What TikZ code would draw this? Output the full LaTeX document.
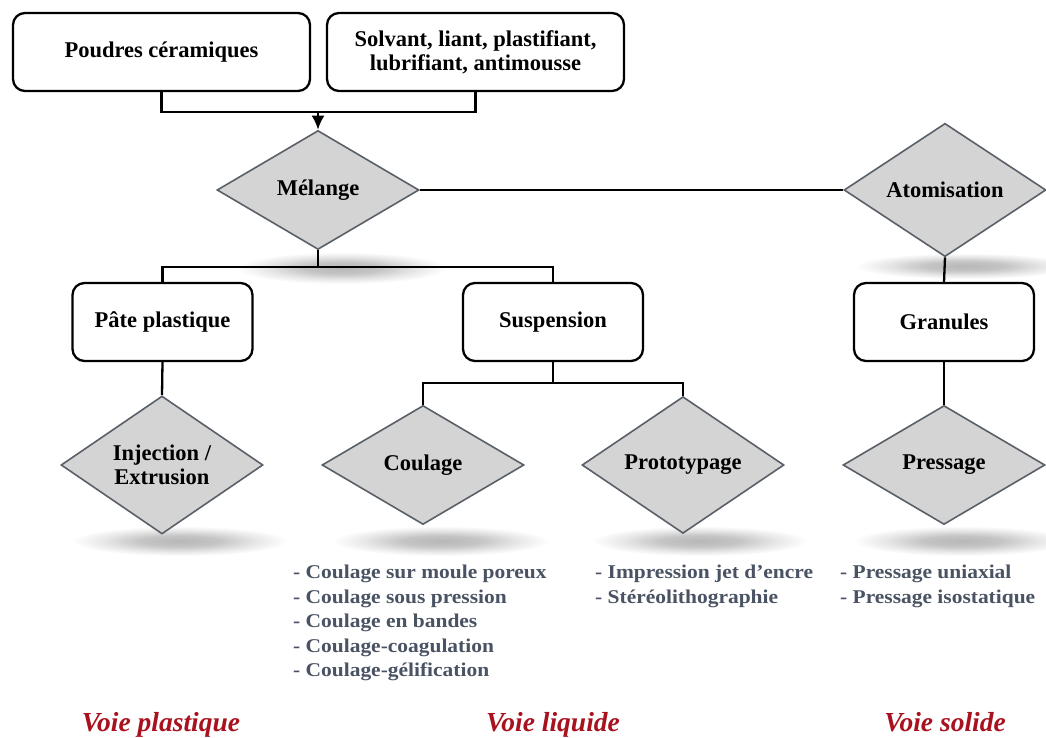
\documentclass[tikz,border=0pt]{standalone}
\usepackage{fontspec}
\setmainfont{Liberation Serif}
\newfontfamily\listfont[FakeStretch=1.1]{Liberation Serif}
\usetikzlibrary{shapes.geometric,arrows.meta}
\definecolor{dfill}{HTML}{D4D4D4}
\definecolor{dborder}{HTML}{596068}
\definecolor{listc}{HTML}{4A5363}
\definecolor{voie}{HTML}{A8121E}
\pgfdeclareradialshading{shadowblur}{\pgfpoint{0bp}{0bp}}{color(0bp)=(black!28); color(9bp)=(black!23); color(18bp)=(black!9); color(25bp)=(white); color(50bp)=(white)}
\begin{document}
\begin{tikzpicture}[x=1pt,y=-1pt,
  box/.style={draw=black, line width=2.3pt, rounded corners=12pt, fill=white, minimum width=180pt, minimum height=78pt, align=center, font=\bfseries\fontsize{22.5}{24}\selectfont},
  dia/.style={diamond, draw=dborder, line width=1.6pt, fill=dfill, minimum width=202pt, minimum height=119pt, inner sep=0pt, align=center, font=\bfseries\fontsize{22.5}{24}\selectfont},
  conn/.style={draw=black, line width=2.3pt},
  listtxt/.style={anchor=north west, align=left, text=listc, inner sep=0pt, font=\listfont\bfseries\fontsize{19.5}{24.5}\selectfont},
  voietxt/.style={anchor=base, text=voie, font=\bfseries\itshape\fontsize{27.5}{30}\selectfont, inner sep=0pt},
  blur/.style={shading=shadowblur}
]
\useasboundingbox (0,0) rectangle (1046,738);
\fill[white] (0,0) rectangle (1046,738);
% shadows
\shade[blur] (342,268) ellipse [x radius=105pt, y radius=16pt];
\shade[blur] (965,266) ellipse [x radius=110pt, y radius=13pt];
\shade[blur] (180,541) ellipse [x radius=108pt, y radius=15pt];
\shade[blur] (441,541) ellipse [x radius=108pt, y radius=15pt];
\shade[blur] (700,541) ellipse [x radius=108pt, y radius=15pt];
\shade[blur] (962,541) ellipse [x radius=108pt, y radius=15pt];
% nodes
\node[box, minimum width=297pt] (pc) at (161.5,52) {Poudres céramiques};
\node[box, minimum width=297pt] (sv) at (475.5,52) {Solvant, liant, plastifiant,\\lubrifiant, antimousse};
\node[dia] (mel) at (318,190) {Mélange};
\node[dia] (ato) at (945,190) {Atomisation};
\node[box] (pate) at (162.5,322) {Pâte plastique};
\node[box] (susp) at (553,322) {Suspension};
\node[box] (gran) at (944,322) {Granules};
\node[dia] (inj) at (162,465) {Injection /\\Extrusion};
\node[dia] (cou) at (423,465) {Coulage};
\node[dia] (pro) at (683,465) {Prototypage};
\node[dia] (pre) at (944,465) {Pressage};
% connectors
\coordinate (j1) at (318,112);
\coordinate (j2) at (318,267);
\coordinate (j3) at (553,383);
\draw[conn] (pc.south) |- (j1) -| (sv.south);
\draw[conn, -{Latex[length=14pt,width=13pt]}] (j1) -- (mel.north);
\draw[conn] (mel.east) -- (ato.west);
\draw[conn] (mel.south) -- (j2);
\draw[conn] (pate.north) |- (j2) -| (susp.north);
\draw[conn] (ato.south) -- (gran.north);
\draw[conn] (pate.south) -- (inj.north);
\draw[conn] (susp.south) -- (j3);
\draw[conn] (cou.north) |- (j3) -| (pro.north);
\draw[conn] (gran.south) -- (pre.north);
% lists
\node[listtxt] (l1) at (293,565) {- Coulage sur moule poreux\\- Coulage sous pression\\- Coulage en bandes\\- Coulage-coagulation\\- Coulage-gélification};
\node[listtxt] (l2) at (595,565) {- Impression jet d’encre\\- Stéréolithographie};
\node[listtxt] (l3) at (840,565) {- Pressage uniaxial\\- Pressage isostatique};
% voie labels
\node[voietxt] (v1) at (161,731) {Voie plastique};
\node[voietxt] (v2) at (553,731) {Voie liquide};
\node[voietxt] (v3) at (945,731) {Voie solide};
\end{tikzpicture}
\end{document}
